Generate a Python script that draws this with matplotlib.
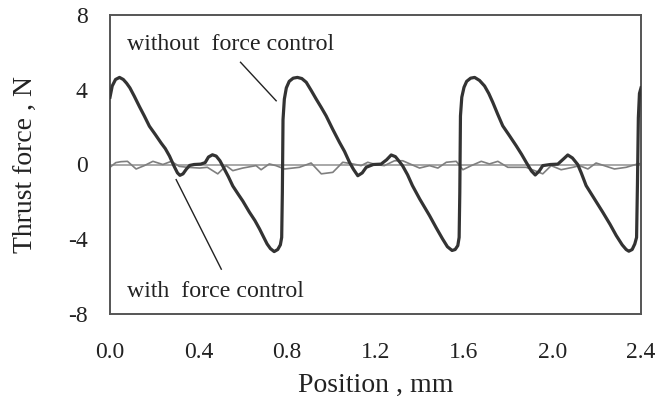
import matplotlib
matplotlib.use("Agg")
import matplotlib.pyplot as plt

plt.rcParams['font.family'] = ['Liberation Serif', 'DejaVu Serif']

# Thrust force without force control (mm, N)
pos_without = [0.000, 0.010, 0.025, 0.043, 0.060, 0.075, 0.090, 0.110, 0.133, 0.155,
               0.178, 0.205, 0.231, 0.250, 0.269, 0.290, 0.305, 0.316, 0.330, 0.345,
               0.360, 0.380, 0.410, 0.430, 0.445, 0.463, 0.480, 0.497, 0.515, 0.535,
               0.555, 0.580, 0.600, 0.630, 0.655, 0.676, 0.695, 0.710, 0.725, 0.742,
               0.758, 0.770, 0.776, 0.779, 0.782, 0.788, 0.797, 0.810, 0.828, 0.847,
               0.867, 0.887, 0.910, 0.932, 0.955, 0.977, 1.006, 1.037, 1.060, 1.082,
               1.100, 1.120, 1.140, 1.158, 1.190, 1.225, 1.250, 1.271, 1.290, 1.305,
               1.322, 1.345, 1.367, 1.400, 1.444, 1.475, 1.503, 1.525, 1.546, 1.560,
               1.572, 1.578, 1.581, 1.584, 1.590, 1.600, 1.612, 1.630, 1.648, 1.670,
               1.693, 1.712, 1.730, 1.752, 1.775, 1.805, 1.836, 1.860, 1.881, 1.905,
               1.922, 1.940, 1.956, 1.990, 2.024, 2.050, 2.069, 2.090, 2.114, 2.130,
               2.152, 2.190, 2.227, 2.260, 2.288, 2.315, 2.333, 2.345, 2.360, 2.372,
               2.380, 2.384, 2.388, 2.393, 2.400]
force_without = [3.60, 4.20, 4.55, 4.66, 4.55, 4.35, 4.10, 3.65, 3.10, 2.60,
                 2.05, 1.60, 1.15, 0.85, 0.45, -0.10, -0.45, -0.58, -0.50, -0.25,
                 -0.05, 0.00, 0.02, 0.10, 0.40, 0.52, 0.45, 0.20, -0.20, -0.65,
                 -1.15, -1.60, -1.95, -2.55, -3.00, -3.45, -3.90, -4.25, -4.50, -4.66,
                 -4.55, -4.30, -3.90, -1.50, 2.40, 3.50, 4.10, 4.45, 4.62, 4.66,
                 4.60, 4.40, 3.95, 3.50, 3.05, 2.60, 1.90, 1.19, 0.70, 0.13,
                 -0.25, -0.60, -0.45, -0.15, 0.00, 0.02, 0.25, 0.51, 0.42, 0.20,
                 -0.06, -0.55, -1.13, -1.85, -2.73, -3.40, -3.98, -4.40, -4.60, -4.55,
                 -4.34, -3.90, -1.50, 2.60, 3.60, 4.13, 4.45, 4.62, 4.66, 4.50,
                 4.20, 3.80, 3.33, 2.70, 2.07, 1.55, 1.00, 0.55, 0.12, -0.35,
                 -0.56, -0.35, -0.06, 0.00, 0.02, 0.30, 0.51, 0.35, 0.00, -0.45,
                 -1.13, -1.85, -2.55, -3.20, -3.80, -4.30, -4.55, -4.64, -4.55, -4.25,
                 -3.90, -1.00, 2.50, 3.80, 4.10]

# Thrust force with force control (mm, N)
pos_with = [0.000, 0.026, 0.049, 0.079, 0.118, 0.155, 0.194, 0.239, 0.277, 0.313,
            0.350, 0.405, 0.440, 0.487, 0.525, 0.555, 0.600, 0.660, 0.683, 0.720,
            0.750, 0.789, 0.856, 0.909, 0.955, 1.007, 1.052, 1.097, 1.135, 1.165,
            1.200, 1.240, 1.286, 1.323, 1.399, 1.444, 1.482, 1.520, 1.565, 1.595,
            1.633, 1.678, 1.715, 1.753, 1.798, 1.881, 1.956, 1.994, 2.039, 2.092,
            2.122, 2.160, 2.197, 2.280, 2.333, 2.385, 2.400]
force_with = [-0.15, 0.10, 0.15, 0.17, -0.24, -0.06, 0.17, 0.00, 0.17, -0.10,
              -0.15, -0.19, -0.15, -0.50, -0.06, -0.33, -0.19, -0.06, -0.28, 0.03,
              -0.06, -0.24, -0.15, 0.08, -0.50, -0.42, 0.12, 0.03, -0.06, 0.12,
              0.00, -0.06, 0.20, 0.20, -0.19, -0.06, -0.19, 0.12, 0.17, -0.28,
              -0.06, 0.17, 0.03, 0.17, -0.15, -0.15, -0.50, -0.06, -0.28, -0.15,
              -0.06, -0.24, 0.08, -0.24, -0.15, 0.03, 0.05]

x_ticks = [0.0, 0.4, 0.8, 1.2, 1.6, 2.0, 2.4]
x_tick_labels = ["0.0", "0.4", "0.8", "1.2", "1.6", "2.0", "2.4"]
y_ticks = [-8, -4, 0, 4, 8]
y_tick_labels = ["-8", "-4", "0", "4", "8"]

fig = plt.figure(figsize=(6.57, 4.03), dpi=100)
ax = fig.add_axes([110 / 657, 1 - 314 / 403, 531 / 657, 299 / 403])

ax.axhline(0, color="#9a9a9a", lw=1.2, zorder=1)
ax.plot(pos_with, force_with, color="#7f7f7f", lw=1.2, zorder=2)
ax.plot(pos_without, force_without, color="#333333", lw=2.3, zorder=3,
        solid_joinstyle="round")

ax.set_xlim(0, 2.4)
ax.set_ylim(-8, 8)
ax.set_xticks(x_ticks)
ax.set_xticklabels(x_tick_labels)
ax.set_yticks(y_ticks)
ax.set_yticklabels(y_tick_labels)
ax.tick_params(axis="both", length=0, labelsize=17, colors="#222222")
ax.tick_params(axis="x", pad=20)
ax.tick_params(axis="y", pad=16)

for s in ax.spines.values():
    s.set_color("#555555")
    s.set_linewidth(1.4)

ax.set_xlabel("Position , mm", fontsize=20, va="center", color="#222222")
ax.xaxis.set_label_coords(0.5, -(385 - 314) / 299)
ax.set_ylabel("Thrust force , N", fontsize=20, va="center", color="#222222")
ax.yaxis.set_label_coords((25 - 110) / 531, 0.5)

# Curve labels with leader lines
ax.text(0.079, 6.44, "without  force control", fontsize=17.2, va="center",
        ha="left", color="#222222")
ax.plot([0.59, 0.751], [5.47, 3.41], color="#222222", lw=1.0)
ax.text(0.075, -6.82, "with  force control", fontsize=17.2, va="center",
        ha="left", color="#222222")
ax.plot([0.299, 0.503], [-0.81, -5.6], color="#222222", lw=1.0)

fig.savefig("out.png", dpi=100)
